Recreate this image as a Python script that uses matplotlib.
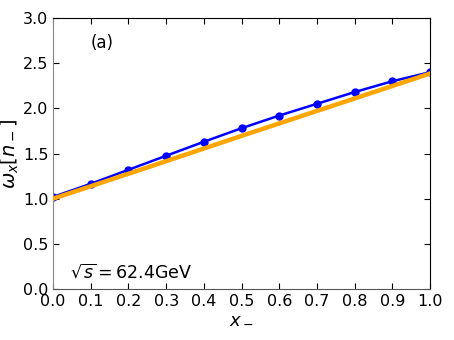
import numpy as np
import matplotlib.pyplot as plt

x_pts = [0.0, 0.1, 0.2, 0.3, 0.4, 0.5, 0.6, 0.7, 0.8, 0.9, 1.0]
w_pts = [1.02, 1.165, 1.32, 1.475, 1.63, 1.78, 1.92, 2.05, 2.18, 2.30, 2.40]

x_line = [0.0, 0.25, 0.5, 0.75, 1.0]
w_line = [1.0, 1.345, 1.695, 2.04, 2.385]

fig = plt.figure(figsize=(4.54, 3.4), dpi=100)
ax = fig.add_axes([0.117, 0.15, 0.83, 0.797])

ax.plot(x_pts, w_pts, color='blue', lw=1.8, marker='o', ms=5, zorder=2)
ax.plot(x_line, w_line, color='orange', lw=3.2, zorder=3)

ax.set_xlim(0, 1)
ax.set_ylim(0, 3)
ax.set_xticks(np.arange(0, 1.01, 0.1))
ax.set_yticks(np.arange(0, 3.01, 0.5))
ax.tick_params(direction='in', top=True, right=True, labelsize=11.5, length=4)
ax.spines['left'].set_color('#888888')
ax.spines['bottom'].set_color('#555555')

ax.set_xlabel(r'$x_-$', fontsize=13, labelpad=0)
ax.set_ylabel(r'$\omega_x[n_-]$', fontsize=14, labelpad=1)
ax.text(0.1, 0.89, '(a)', transform=ax.transAxes, fontsize=12)
ax.text(0.045, 0.04, r'$\sqrt{s}=62.4$GeV', transform=ax.transAxes, fontsize=12.5)

fig.savefig('out.png')
